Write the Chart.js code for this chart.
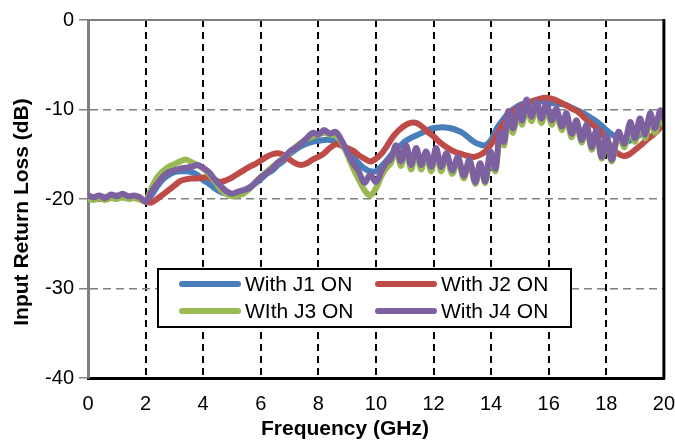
<!DOCTYPE html>
<html>
<head>
<meta charset="utf-8">
<script src="https://cdn.jsdelivr.net/npm/chart.js@4.4.1/dist/chart.umd.min.js"></script>
<style>
  html, body { margin: 0; padding: 0; background: #fff; }
  #wrap { width: 675px; height: 441px; }
</style>
</head>
<body>
<div id="wrap"><canvas id="chart" width="675" height="441"></canvas></div>
<script>
// frequency grid for the smooth traces (GHz)
const freq = [0,0.2,0.4,0.6,0.8,1,1.2,1.4,1.6,1.8,2,2.2,2.4,2.6,2.8,3,3.2,3.4,3.6,3.8,
  4,4.2,4.4,4.6,4.8,5,5.2,5.4,5.6,5.8,6,6.2,6.4,6.6,6.8,7,7.2,7.4,7.6,7.8,
  8,8.2,8.4,8.6,8.8,9,9.2,9.4,9.6,9.8,10,10.2,10.4,10.6,10.8,11,11.2,11.4,11.6,11.8,
  12,12.2,12.4,12.6,12.8,13,13.2,13.4,13.6,13.8,14,14.2,14.4,14.6,14.8,15,15.2,15.4,15.6,15.8,
  16,16.2,16.4,16.6,16.8,17,17.2,17.4,17.6,17.8,18,18.2,18.4,18.6,18.8,19,19.2,19.4,19.6,19.8,20];

const j1Loss = [-19.8,-19.9,-19.8,-19.9,-19.7,-19.6,-19.7,-19.8,-19.8,-19.9,
  -20.2,-19.6,-18.6,-17.8,-17.3,-17.0,-16.9,-16.9,-17.0,-17.3,
  -17.9,-18.3,-18.8,-19.2,-19.4,-19.6,-19.4,-19.1,-18.7,-18.3,
  -17.8,-17.2,-16.8,-16.2,-15.7,-15.0,-14.5,-14.1,-13.8,-13.6,
  -13.5,-13.4,-13.4,-13.6,-14.0,-14.6,-15.3,-16.0,-16.6,-16.9,
  -16.9,-16.3,-15.6,-14.8,-14.2,-13.6,-13.2,-12.9,-12.6,-12.3,
  -12.1,-12.0,-12.0,-12.1,-12.3,-12.6,-13.1,-13.6,-13.9,-14.0,
  -13.4,-12.1,-11.2,-10.4,-9.9,-9.5,-9.3,-9.1,-9.1,-9.1,
  -9.3,-9.3,-9.4,-9.5,-9.8,-10.1,-10.4,-10.8,-11.2,-11.7,
  -12.3,-12.8,-13.2,-13.6,-13.5,-13.2,-12.7,-12.1,-11.7,-11.4,-11.0];

const j2Loss = [-19.9,-19.9,-20.0,-19.8,-19.8,-19.7,-19.8,-19.9,-19.9,-20.0,
  -20.3,-20.4,-20.0,-19.5,-19.0,-18.5,-18.0,-17.8,-17.7,-17.7,
  -17.6,-17.6,-17.9,-18.1,-17.9,-17.6,-17.2,-16.8,-16.4,-16.1,
  -15.7,-15.3,-15.0,-14.9,-15.1,-15.6,-16.0,-16.2,-16.0,-15.6,
  -15.3,-14.9,-14.3,-13.9,-14.0,-14.3,-14.6,-15.1,-15.5,-15.8,
  -15.5,-14.9,-14.0,-13.0,-12.3,-11.8,-11.5,-11.5,-11.9,-12.5,
  -13.0,-13.6,-14.1,-14.5,-14.8,-15.0,-15.2,-15.3,-15.1,-14.7,
  -13.9,-12.8,-11.7,-10.8,-10.1,-9.7,-9.4,-9.1,-8.9,-8.7,
  -8.7,-8.9,-9.2,-9.5,-9.9,-10.2,-10.8,-11.4,-11.9,-12.5,
  -13.4,-14.3,-14.9,-15.2,-15.0,-14.5,-14.0,-13.4,-12.9,-12.3,-11.4];

// J3 / J4 ripple: denser points read at the peaks and dips (GHz)
const rippleFreq = [0,0.2,0.4,0.6,0.8,1,1.2,1.4,1.6,1.8,2,2.2,2.4,2.6,2.8,3,3.2,3.4,3.6,3.8,
  4,4.2,4.4,4.6,4.8,5,5.2,5.4,5.6,5.8,6,6.2,6.4,6.6,6.8,7,7.2,7.4,7.6,7.8,
  8,8.2,8.4,8.6,8.8,9,9.2,9.4,9.6,9.8,10,10.2,
  10.35,10.52,10.7,10.87,11.05,11.22,11.4,11.57,11.74,11.92,12.09,12.26,12.45,12.65,12.85,13.05,13.25,13.45,13.62,
  13.8,13.97,14.15,14.3,14.45,14.59,14.76,14.94,15.08,15.23,15.4,15.58,15.75,15.92,16.1,16.27,16.45,16.62,16.79,
  16.97,17.14,17.32,17.49,17.66,17.84,18.01,18.19,18.42,18.63,18.83,19,19.17,19.35,19.52,19.69,19.87,20];

const j3Loss = [-20.0,-20.1,-19.9,-20.1,-19.9,-20.0,-19.8,-20.0,-19.9,-20.1,
  -20.2,-18.8,-17.6,-16.9,-16.4,-16.1,-15.8,-15.6,-15.9,-16.2,
  -16.6,-17.2,-18.0,-18.9,-19.4,-19.7,-19.6,-19.4,-18.9,-18.2,
  -17.5,-17.0,-16.4,-15.9,-15.4,-14.8,-14.2,-13.7,-13.3,-13.0,
  -12.8,-12.6,-12.8,-12.9,-13.6,-15.0,-16.5,-17.8,-19.0,-19.6,-18.8,-17.4,
  -16.6,-16.0,-14.4,-16.3,-14.3,-16.7,-14.6,-16.7,-14.9,-16.9,-14.6,-16.9,-15.2,-17.2,-15.5,-17.7,-15.8,-18.3,-16.3,
  -18.2,-15.2,-16.9,-13.0,-14.0,-10.7,-12.6,-10.1,-11.7,-9.4,-11.3,-9.6,-11.5,-9.8,-11.7,-10.3,-12.3,-10.8,-13.1,
  -11.5,-13.7,-12.0,-14.5,-12.6,-15.5,-13.2,-15.8,-12.9,-14.2,-11.8,-13.6,-11.4,-13.2,-10.9,-12.6,-10.8,-11.7];

const j4Loss = [-19.6,-19.8,-19.6,-19.9,-19.5,-19.7,-19.4,-19.7,-19.6,-19.8,
  -20.3,-19.2,-18.3,-17.5,-17.0,-16.8,-16.6,-16.5,-16.4,-16.2,
  -16.5,-17.0,-17.8,-18.5,-19.1,-19.4,-19.2,-19.0,-18.8,-18.2,
  -17.6,-17.1,-16.6,-15.9,-15.5,-14.7,-14.3,-13.8,-13.2,-12.6,
  -12.8,-12.3,-12.7,-12.5,-13.4,-14.7,-16.0,-16.9,-18.2,-17.3,-18.1,-16.8,
  -16.0,-15.5,-14.0,-15.8,-14.0,-16.2,-14.3,-16.2,-14.7,-16.4,-14.3,-16.4,-14.9,-16.8,-15.3,-17.4,-15.6,-18.1,-16.0,
  -18.0,-14.7,-16.6,-12.6,-13.6,-10.2,-12.1,-9.7,-11.2,-8.9,-10.8,-9.1,-11.0,-9.3,-11.2,-9.9,-11.9,-10.4,-12.7,
  -11.2,-13.4,-11.7,-14.2,-12.3,-15.3,-12.9,-15.6,-12.5,-13.8,-11.4,-13.2,-11.0,-12.8,-10.4,-12.1,-10.1,-11.0];

const seriesNames = ['With J1 ON', 'With J2 ON', 'WIth J3 ON', 'With J4 ON'];
const seriesColors = ['#4a7ebb', '#be4b48', '#98b954', '#7d60a0'];
const xTitle = 'Frequency (GHz)';
const yTitle = 'Input Return Loss (dB)';

function pts(xs, ys) {
  return xs.map((x, i) => ({ x: x, y: ys[i] }));
}

// frame (top / right edges), axis titles and the boxed legend inside the plot
const frameAndLegend = {
  id: 'frameAndLegend',
  afterDraw(chart) {
    const { ctx, chartArea: a } = chart;
    ctx.save();
    ctx.strokeStyle = '#7f7f7f';
    ctx.lineWidth = 2;
    ctx.beginPath(); ctx.moveTo(a.left, a.top); ctx.lineTo(a.right, a.top); ctx.stroke();
    ctx.strokeStyle = '#000';
    ctx.lineWidth = 3;
    ctx.beginPath(); ctx.moveTo(a.right, a.top - 1); ctx.lineTo(a.right, a.bottom + 1); ctx.stroke();

    // axis titles (the originals sit a little off the plot centre)
    ctx.fillStyle = '#000';
    ctx.font = 'bold 21px "Liberation Sans", Arial, sans-serif';
    ctx.textAlign = 'center';
    ctx.textBaseline = 'alphabetic';
    ctx.fillText(xTitle, 345, 435);
    ctx.save();
    ctx.translate(28, 212);
    ctx.rotate(-Math.PI / 2);
    ctx.fillText(yTitle, 0, 0);
    ctx.restore();

    ctx.fillStyle = '#fff';
    ctx.fillRect(158, 269, 413, 58);
    ctx.strokeStyle = '#000';
    ctx.lineWidth = 2;
    ctx.strokeRect(158, 269, 413, 58);

    const cols = [182, 378];
    const rows = [284, 311];
    ctx.font = '21px "Liberation Sans", Arial, sans-serif';
    ctx.textBaseline = 'middle';
    ctx.textAlign = 'left';
    chart.data.datasets.forEach((ds, i) => {
      const x = cols[i % 2], y = rows[Math.floor(i / 2)];
      ctx.strokeStyle = ds.borderColor;
      ctx.lineWidth = 6;
      ctx.lineCap = 'round';
      ctx.beginPath(); ctx.moveTo(x, y); ctx.lineTo(x + 56, y); ctx.stroke();
      ctx.fillStyle = '#000';
      ctx.fillText(ds.label, x + 63, y + 1);
    });
    ctx.restore();
  }
};

const ctx = document.getElementById('chart').getContext('2d');
new Chart(ctx, {
  type: 'line',
  data: {
    datasets: [
      { label: seriesNames[0], data: pts(freq, j1Loss), borderColor: seriesColors[0], order: 4, tension: 0.3 },
      { label: seriesNames[1], data: pts(freq, j2Loss), borderColor: seriesColors[1], order: 3, tension: 0.3 },
      { label: seriesNames[2], data: pts(rippleFreq, j3Loss), borderColor: seriesColors[2], order: 2, tension: 0.35 },
      { label: seriesNames[3], data: pts(rippleFreq, j4Loss), borderColor: seriesColors[3], order: 1, tension: 0.35 }
    ]
  },
  options: {
    responsive: false,
    animation: false,
    devicePixelRatio: 1,
    layout: { padding: { top: 20, right: 2, left: 0, bottom: 0 } },
    datasets: {
      line: {
        borderWidth: 6,
        pointRadius: 0,
        fill: false,
        borderCapStyle: 'round',
        borderJoinStyle: 'round'
      }
    },
    plugins: {
      legend: { display: false },
      tooltip: { enabled: false }
    },
    scales: {
      x: {
        type: 'linear',
        min: 0,
        max: 20,
        afterFit: (s) => { s.height = 63; },
        ticks: {
          stepSize: 2,
          padding: 0,
          color: '#000',
          font: { family: '"Liberation Sans", Arial, sans-serif', size: 20 }
        },
        grid: { color: '#000', lineWidth: 2, drawTicks: true, tickLength: 14, tickColor: 'rgba(0,0,0,0)' },
        border: { color: '#000', width: 3, dash: [7, 5] }
      },
      y: {
        min: -40,
        max: 0,
        afterFit: (s) => { s.width = 88; },
        ticks: {
          stepSize: 10,
          padding: 5,
          color: '#000',
          font: { family: '"Liberation Sans", Arial, sans-serif', size: 20 }
        },
        grid: { color: '#808080', lineWidth: 1.5, tickLength: 9, tickColor: '#808080', tickBorderDash: [] },
        border: { color: '#808080', width: 3, dash: [8, 5] }
      }
    }
  },
  plugins: [frameAndLegend]
});
</script>
</body>
</html>
